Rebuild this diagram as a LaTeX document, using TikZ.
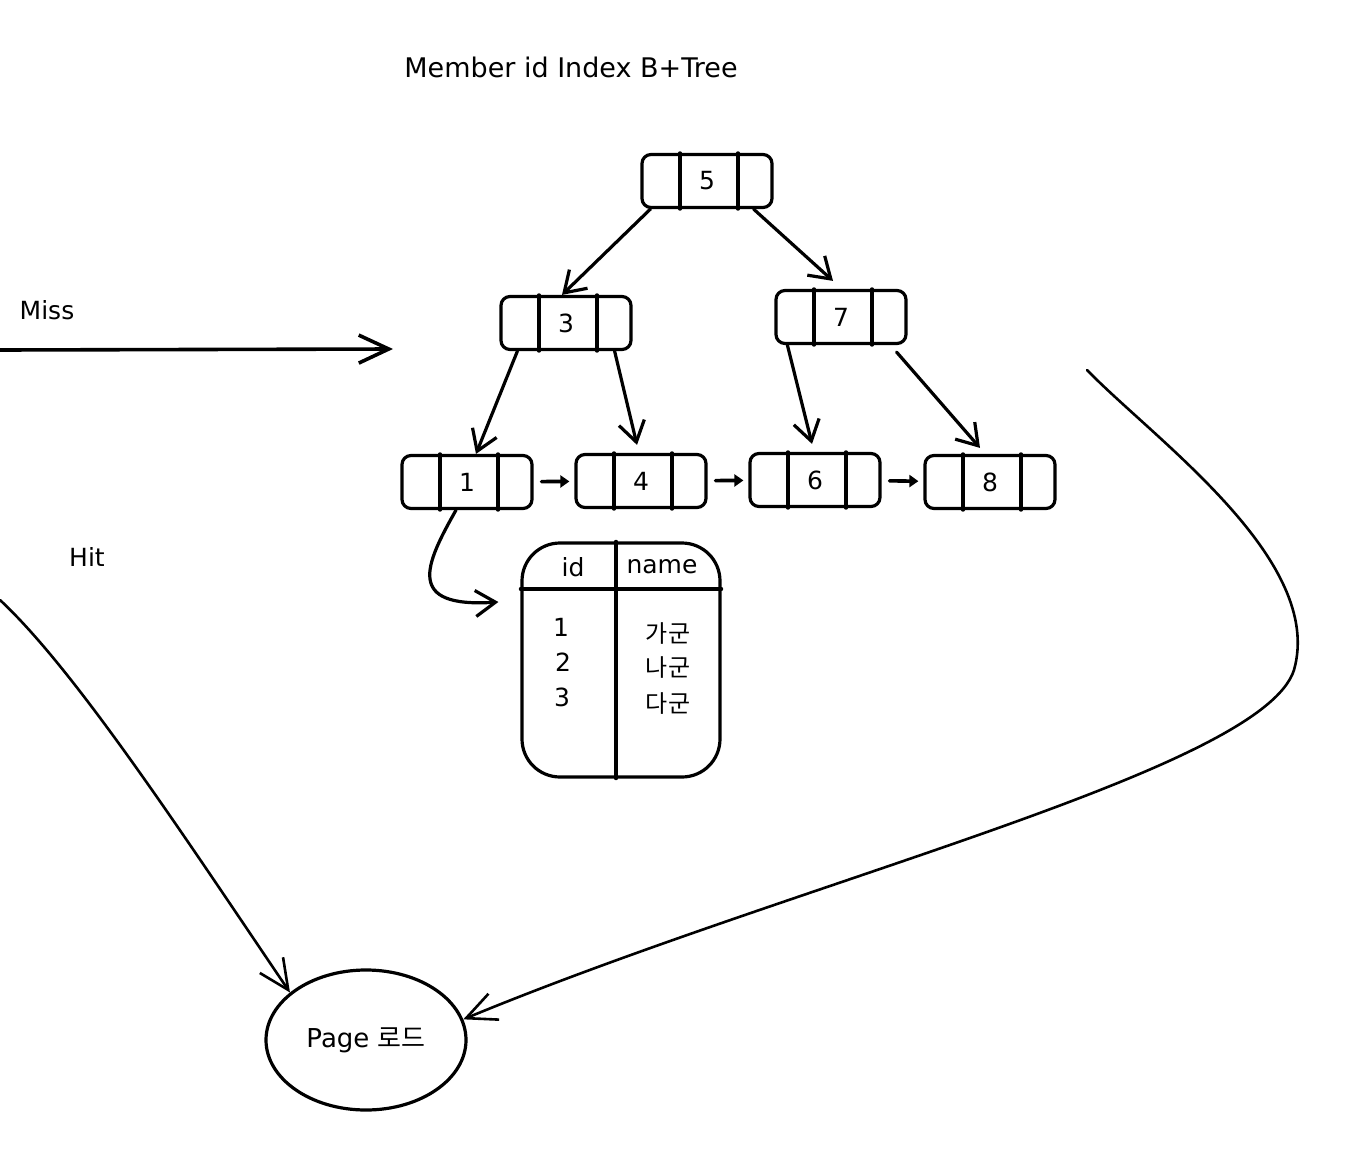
\documentclass[tikz,border=0pt]{standalone}
\usepackage{fontspec}
\setmainfont{DejaVu Sans}
\newfontfamily\kr{Noto Sans CJK KR}
\usetikzlibrary{arrows.meta,shapes.geometric,calc}
\begin{document}
\begin{tikzpicture}[x=1pt,y=-1pt,
 line width=3.2pt, line cap=round, line join=round,
 bbox/.style={draw, rounded corners=9pt, minimum width=130pt, minimum height=53pt, inner sep=0pt, font=\fontsize{25}{30}\selectfont},
 tarrow/.style={-{Straight Barb[length=20pt,width=26pt]}},
 bigarrow/.style={-{Straight Barb[length=30pt,width=28pt]}},
 link/.style={-{Triangle[length=9pt,width=12pt]}, line width=3.6pt, shorten <=8pt, shorten >=5pt},
 lbl/.style={font=\fontsize{25}{30}\selectfont, inner sep=0pt},
 krl/.style={font=\kr\fontsize{24}{28}\selectfont, inner sep=0pt}
]
\useasboundingbox (0,0) rectangle (1369,1154);

% titles and labels
\node[lbl, font=\fontsize{27}{32}\selectfont] (title) at (571,67) {Member id Index B+Tree};
\node[lbl] (miss) at (47,310) {Miss};
\node[lbl] (hit) at (87,557) {Hit};

% tree nodes
\node[bbox] (n5) at (707,181) {5};
\node[bbox] (n3) at (566,323) {3};
\node[bbox] (n7) at (841,317) {7};
\node[bbox] (n1) at (467,482) {1};
\node[bbox] (n4) at (641,481) {4};
\node[bbox] (n6) at (815,480) {6};
\node[bbox] (n8) at (990,482) {8};
\foreach \n in {n5,n3,n7,n1,n4,n6,n8}{
  \draw ([xshift=-27pt]\n.north) -- ([xshift=-27pt]\n.south);
  \draw ([xshift=31pt]\n.north) -- ([xshift=31pt]\n.south);
}

% tree edges
\draw[tarrow] ([xshift=10pt]n5.south west) -- ([xshift=-4pt]n3.north);
\draw[tarrow] ([xshift=-20pt]n5.south east) -- ([shift={(-8pt,8pt)}]n7.north);
\draw[tarrow] ([xshift=18pt]n3.south west) -- ([xshift=9pt]n1.north);
\draw[tarrow] ([xshift=-18pt]n3.south east) -- ([shift={(-4pt,8pt)}]n4.north);
\draw[tarrow] ([xshift=13pt]n7.south west) -- ([shift={(-3pt,8pt)}]n6.north);
\draw[tarrow] ([shift={(-11pt,-7pt)}]n7.south east) -- ([shift={(-10pt,6pt)}]n8.north);

% leaf links
\draw[link] (n1) -- (n4);
\draw[link] (n4) -- (n6);
\draw[link] (n6) -- (n8);

% table
\node[draw, rounded corners=38pt, minimum width=198pt, minimum height=234pt] (tbl) at (621,660) {};
\draw ([xshift=-5pt]tbl.north) -- ([xshift=-5pt]tbl.south);
\draw (tbl.west |- 0,589) -- (tbl.east |- 0,589);
\node[lbl] (hid) at (573,567) {id};
\node[lbl] (hname) at (662,567) {name};
\node[lbl] (r1) at (561,627) {1};
\node[lbl] (r2) at (563,662) {2};
\node[lbl] (r3) at (562,697) {3};
\node[krl] (k1) at (668,633) {가군};
\node[krl] (k2) at (668,667) {나군};
\node[krl] (k3) at (668,704) {다군};

\draw[tarrow] ([xshift=-11pt]n1.south) .. controls (425,565) and (405,608) .. ($(tbl.west)+(-22,-58)$);

% page load
\node[draw, ellipse, minimum width=200pt, minimum height=140pt, inner sep=0pt, font=\fontsize{26}{30}\selectfont] (page) at (366,1040) {Page {\kr 로드}};

% miss arrow
\coordinate (missS) at (0,350);
\coordinate (missE) at (393,349);
\draw[bigarrow, line width=3.6pt] (missS) -- (missE);

% hit curve
\coordinate (hitS) at (0,600);
\draw[bigarrow, line width=2.6pt] (hitS) .. controls (75,670) and (180,830) .. (page.148);

% right curve
\coordinate (rS) at (1087,370);
\draw[bigarrow, line width=2.6pt] (rS) .. controls (1155,440) and (1325,560) .. (1294,670)
  .. controls (1262,770) and (800,880) .. (page.12);
\end{tikzpicture}
\end{document}
